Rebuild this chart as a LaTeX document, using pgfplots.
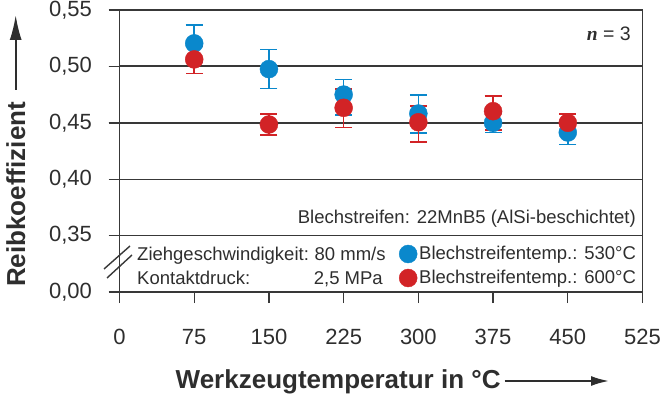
\documentclass[border=0pt]{standalone}
\usepackage{fontspec}
\setmainfont{Liberation Sans}
\newfontfamily\serifn{Liberation Serif}
\usepackage{pgfplots}
\pgfplotsset{compat=1.18}
\usepackage{pgfplotstable}
\usetikzlibrary{arrows.meta}
\definecolor{cblue}{HTML}{0A88CC}
\definecolor{cred}{HTML}{D22326}
\definecolor{axc}{HTML}{383838}
\definecolor{txt}{HTML}{2E2E2E}

\pgfplotstableread{
x y ep em
75 0.5204 0.0163 0.0163
150 0.4976 0.0175 0.0172
225 0.4750 0.0134 0.0182
300 0.4582 0.0163 0.0171
375 0.4500 0.0086 0.0086
450 0.4414 0.0107 0.0107
}\blueT
\pgfplotstableread{
x y ep em
75 0.5062 0.0121 0.0124
150 0.4485 0.0091 0.0092
225 0.4633 0.0165 0.0175
300 0.4505 0.0143 0.0177
375 0.4603 0.0136 0.0169
450 0.4500 0.0079 0.0078
}\redT

\begin{document}
\begin{tikzpicture}[x=1pt,y=1pt]
\useasboundingbox (0,0) rectangle (662,394);
\begin{axis}[
 at={(119.5pt,102pt)}, anchor=south west,
 scale only axis, width=523pt, height=282pt,
 xmin=0, xmax=525, ymin=0.30, ymax=0.55,
 xtick={0,75,150,225,300,375,450,525},
 xticklabels={0,75,150,225,300,375,450,525},
 ytick={0.30,0.35,0.40,0.45,0.50,0.55},
 yticklabels={0{,}00,0{,}35,0{,}40,0{,}45,0{,}50,0{,}55},
 extra y ticks={0.45,0.50}, extra y tick labels={},
 extra y tick style={grid style={axc, line width=2pt}},
 xtick pos=left, ytick pos=left,
 tick align=outside, major tick length=11pt,
 tick style={axc, line width=1.4pt},
 axis line style={axc, line width=1.5pt},
 ymajorgrids, grid style={axc, line width=1.2pt},
 ticklabel style={font=\fontsize{22}{26}\selectfont, text=txt},
 yticklabel style={xshift=-13pt},
 xticklabel style={yshift=-23pt},
 clip=false,
 legend cell align=left,
 legend style={at={(axis description cs:0.5344,0.0922)}, anchor=west,
   draw=none, fill=none, inner sep=0pt, row sep=6pt, column sep=2pt,
   font=\fontsize{18.5}{22}\selectfont, text=txt, nodes={inner sep=0pt}},
]
\addplot[only marks, mark=*, mark size=9pt, color=cblue,
  mark options={draw=none, fill=cblue},
  error bars/.cd, y dir=both, y explicit, error mark=-,
  error bar style={line width=1.7pt, cblue},
  error mark options={rotate=90, line width=1.7pt, mark size=8.5pt, cblue}]
  table[x=x, y=y, y error plus=ep, y error minus=em] {\blueT};
\addplot[only marks, mark=*, mark size=9pt, color=cred,
  mark options={draw=none, fill=cred},
  error bars/.cd, y dir=both, y explicit, error mark=-,
  error bar style={line width=1.7pt, cred},
  error mark options={rotate=90, line width=1.7pt, mark size=8.5pt, cred}]
  table[x=x, y=y, y error plus=ep, y error minus=em] {\redT};
\addlegendimage{legend image code/.code={\fill[cblue] (9pt,0pt) circle (9pt);}}
\addlegendentry{Blechstreifentemp.: 530°C}
\addlegendimage{legend image code/.code={\fill[cred] (9pt,0pt) circle (9pt);}}
\addlegendentry{Blechstreifentemp.: 600°C}
\end{axis}
\begin{scope}[every node/.style={text=txt, font=\fontsize{18.5}{22}\selectfont, inner sep=0pt}]
\node[anchor=base east] at (636,170) {Blechstreifen: 22MnB5 (AlSi-beschichtet)};
\node[anchor=base west] at (137,133.3) {Ziehgeschwindigkeit:};
\node[anchor=base west] at (314.5,133.3) {80 mm/s};
\node[anchor=base west] at (137,109.3) {Kontaktdruck:};
\node[anchor=base east] at (383,109.3) {2,5 MPa};
\node[anchor=base east, font=\fontsize{19.5}{22}\selectfont] at (631,353) {{\serifn\bfseries\itshape n} = 3};
\end{scope}
\draw[axc, line width=1.4pt] (104,125) -- (130,148);
\draw[axc, line width=1.4pt] (107,116) -- (132,139);
\node[rotate=90, anchor=base west, text=txt, inner sep=0pt, font=\bfseries\fontsize{26}{30}\selectfont] at (25,107) {Reibkoeffizient};
\draw[txt, line width=2pt, -{Latex[length=25pt,width=12pt]}] (15.7,304) -- (15.7,379);
\node[anchor=base west, text=txt, inner sep=0pt, font=\bfseries\fontsize{26}{30}\selectfont] at (175.5,5.5) {Werkzeugtemperatur in °C};
\draw[txt, line width=2pt, -{Latex[length=18pt,width=10pt]}] (504.7,13) -- (609,13);
\end{tikzpicture}
\end{document}
